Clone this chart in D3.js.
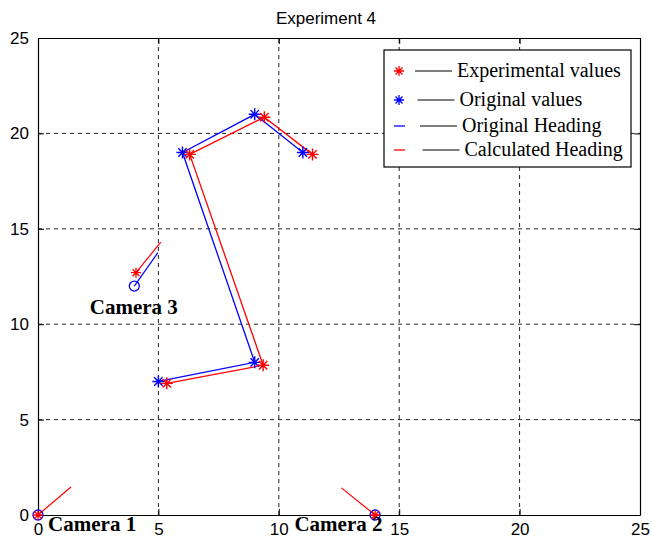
<!DOCTYPE html>
<html>
<head>
<meta charset="utf-8">
<script src="https://cdn.jsdelivr.net/npm/d3@7/dist/d3.min.js"></script>
<style>
  html, body { margin: 0; padding: 0; background: #ffffff; }
  svg { display: block; }
</style>
</head>
<body>
<svg id="chart" width="652" height="544"></svg>
<script>
// Axis ticks
const xTicks = [0, 5, 10, 15, 20, 25];
const yTicks = [0, 5, 10, 15, 20, 25];

// Robot path: original (blue) and experimentally measured (red) positions
const origX = [5, 9, 6, 9, 11];
const origY = [7, 8, 19, 21, 19];
const expX = [5.35, 9.35, 6.3, 9.4, 11.4];
const expY = [6.9, 7.85, 18.9, 20.85, 18.9];

// Cameras: true positions, measured positions and heading segment ends
const camNames = ["Camera 1", "Camera 2", "Camera 3"];
const camX = [0, 14, 4];
const camY = [0, 0, 12];
const camExpX = [0, 14, 4.07];
const camExpY = [0, 0, 12.7];
const camHeadOrigX = [null, null, 4.98];
const camHeadOrigY = [null, null, 13.75];
const camHeadCalcX = [1.37, 12.6, 5.1];
const camHeadCalcY = [1.47, 1.42, 14.3];
const camLabelX = [0.42, 10.65, 2.15];
const camLabelY = [-0.85, -0.85, 10.55];

// Legend entries
const legendLabels = ["Experimental values", "Original values", "Original Heading", "Calculated Heading"];
const legendColors = ["#ff0000", "#0000ff", "#0000ff", "#ff0000"];
const legendKinds = ["star", "star", "dash", "dash"];

const svg = d3.select("#chart");
const plotL = 38, plotR = 640, plotT = 38, plotB = 515;
const x = d3.scaleLinear().domain([0, 25]).range([plotL, plotR]);
const y = d3.scaleLinear().domain([0, 25]).range([plotB, plotT]);

// dashed grid
const grid = svg.append("g").attr("stroke", "#222").attr("stroke-width", 1)
  .attr("stroke-dasharray", "4,4");
xTicks.slice(1, -1).forEach(t => {
  grid.append("line").attr("x1", x(t)).attr("x2", x(t)).attr("y1", y(0)).attr("y2", y(25));
});
yTicks.slice(1, -1).forEach(t => {
  grid.append("line").attr("x1", x(0)).attr("x2", x(25)).attr("y1", y(t)).attr("y2", y(t));
});

// axes with inward ticks on all four sides
const tickFont = "'Liberation Sans', Arial, sans-serif";
const xAxisB = d3.axisBottom(x).tickValues(xTicks).tickSizeInner(-6).tickSizeOuter(0).tickPadding(8);
const xAxisT = d3.axisTop(x).tickValues(xTicks).tickSizeInner(-6).tickSizeOuter(0).tickFormat("");
const yAxisL = d3.axisLeft(y).tickValues(yTicks).tickSizeInner(-6).tickSizeOuter(0).tickPadding(9);
const yAxisR = d3.axisRight(y).tickValues(yTicks).tickSizeInner(-6).tickSizeOuter(0).tickFormat("");

function styleAxis(g) {
  g.select(".domain").attr("stroke", "#000").attr("stroke-width", 1.2);
  g.selectAll(".tick line").attr("stroke", "#000");
  g.selectAll("text").attr("fill", "#000").style("font-family", tickFont).style("font-size", "17px");
}
svg.append("g").attr("transform", `translate(0,${plotB})`).call(xAxisB).call(styleAxis);
svg.append("g").attr("transform", `translate(0,${plotT})`).call(xAxisT).call(styleAxis);
svg.append("g").attr("transform", `translate(${plotL},0)`).call(yAxisL).call(styleAxis);
svg.append("g").attr("transform", `translate(${plotR},0)`).call(yAxisR).call(styleAxis);

// title
svg.append("text").attr("x", 326).attr("y", 24)
  .attr("text-anchor", "middle").style("font-family", tickFont).style("font-size", "17px")
  .text("Experiment 4");

// star marker path
function starPath(s) {
  const a = s * 0.7;
  return `M${-s},0L${s},0M0,${-s}L0,${s}M${-a},${-a}L${a},${a}M${-a},${a}L${a},${-a}`;
}

const line = d3.line().x(d => x(d[0])).y(d => y(d[1]));
const origPts = origX.map((v, i) => [v, origY[i]]);
const expPts = expX.map((v, i) => [v, expY[i]]);

svg.append("path").attr("d", line(origPts)).attr("fill", "none").attr("stroke", "#0000ff").attr("stroke-width", 1.3);
svg.append("path").attr("d", line(expPts)).attr("fill", "none").attr("stroke", "#ff0000").attr("stroke-width", 1.3);

// camera heading segments
camX.forEach((cx, i) => {
  if (camHeadOrigX[i] !== null) {
    svg.append("path").attr("d", line([[cx, camY[i]], [camHeadOrigX[i], camHeadOrigY[i]]]))
      .attr("stroke", "#0000ff").attr("stroke-width", 1.2).attr("fill", "none");
  }
  svg.append("path").attr("d", line([[camExpX[i], camExpY[i]], [camHeadCalcX[i], camHeadCalcY[i]]]))
    .attr("stroke", "#ff0000").attr("stroke-width", 1.2).attr("fill", "none");
});

// markers
origPts.forEach(p => {
  svg.append("path").attr("d", starPath(6)).attr("transform", `translate(${x(p[0])},${y(p[1])})`)
    .attr("stroke", "#0000ff").attr("stroke-width", 1.4).attr("fill", "none");
});
expPts.forEach(p => {
  svg.append("path").attr("d", starPath(6)).attr("transform", `translate(${x(p[0])},${y(p[1])})`)
    .attr("stroke", "#ff0000").attr("stroke-width", 1.4).attr("fill", "none");
});

// cameras
camX.forEach((cx, i) => {
  svg.append("circle").attr("cx", x(cx)).attr("cy", y(camY[i])).attr("r", 5)
    .attr("fill", "none").attr("stroke", "#0000ff").attr("stroke-width", 1.3);
  svg.append("path").attr("d", starPath(5)).attr("transform", `translate(${x(camExpX[i])},${y(camExpY[i])})`)
    .attr("stroke", "#ff0000").attr("stroke-width", 1.3).attr("fill", "none");
  svg.append("text").attr("x", x(camLabelX[i])).attr("y", y(camLabelY[i]))
    .style("font-family", "'Liberation Serif', 'Times New Roman', serif")
    .style("font-weight", "bold").style("font-size", "21px").attr("fill", "#000")
    .text(camNames[i]);
});

// legend
const lg = svg.append("g");
lg.append("rect").attr("x", 384).attr("y", 50).attr("width", 247).attr("height", 117)
  .attr("fill", "#fff").attr("stroke", "#000").attr("stroke-width", 1.2);
const rowY = [71, 100, 126, 150];
legendLabels.forEach((lab, i) => {
  const ry = rowY[i];
  if (legendKinds[i] === "star") {
    lg.append("path").attr("d", starPath(5)).attr("transform", `translate(399,${ry})`)
      .attr("stroke", legendColors[i]).attr("stroke-width", 1.3).attr("fill", "none");
  } else {
    lg.append("line").attr("x1", 394).attr("x2", 405).attr("y1", ry).attr("y2", ry)
      .attr("stroke", legendColors[i]).attr("stroke-width", 1.3);
  }
  const lx = 415 + i * 2.5;
  lg.append("line").attr("x1", lx).attr("x2", lx + 37).attr("y1", ry).attr("y2", ry)
    .attr("stroke", "#000").attr("stroke-width", 1.2);
  lg.append("text").attr("x", lx + 42).attr("y", ry + 6)
    .style("font-family", "'Liberation Serif', 'Times New Roman', serif").style("font-size", "20px")
    .attr("fill", "#000").text(lab);
});
</script>
</body>
</html>
